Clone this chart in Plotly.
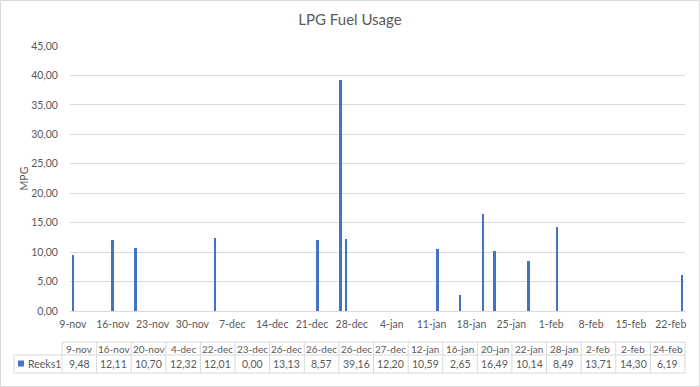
import plotly.graph_objects as go

# ---- data ----
dates = ["2015-11-09", "2015-11-16", "2015-11-20", "2015-12-04", "2015-12-22", "2015-12-23",
         "2015-12-26", "2015-12-26", "2015-12-26", "2015-12-27", "2016-01-12", "2016-01-16",
         "2016-01-20", "2016-01-22", "2016-01-28", "2016-02-02", "2016-02-02", "2016-02-24"]
categories = ["9-nov", "16-nov", "20-nov", "4-dec", "22-dec", "23-dec", "26-dec", "26-dec", "26-dec",
              "27-dec", "12-jan", "16-jan", "20-jan", "22-jan", "28-jan", "2-feb", "2-feb", "24-feb"]
values = [9.48, 12.11, 10.70, 12.32, 12.01, 0.00, 13.13, 8.57, 39.16,
          12.20, 10.59, 2.65, 16.49, 10.14, 8.49, 13.71, 14.30, 6.19]
tick_dates = ["2015-11-09", "2015-11-16", "2015-11-23", "2015-11-30", "2015-12-07", "2015-12-14",
              "2015-12-21", "2015-12-28", "2016-01-04", "2016-01-11", "2016-01-18", "2016-01-25",
              "2016-02-01", "2016-02-08", "2016-02-15", "2016-02-22"]
tick_labels = ["9-nov", "16-nov", "23-nov", "30-nov", "7-dec", "14-dec", "21-dec", "28-dec",
               "4-jan", "11-jan", "18-jan", "25-jan", "1-feb", "8-feb", "15-feb", "22-feb"]
series_name = "Reeks1"

# ---- styling ----
W, H = 700, 387
ML, MR, MT, MB = 70, 15, 46, 76
PW, PH = W - ML - MR, H - MT - MB
TXT = "#595959"
GRID = "#d9d9d9"
BAR = "#4472C4"
FONT = "Lato"
FS = 10.5
FT = 10
DAY = 86400000


def px(x):
    return (x - ML) / PW


def py(y):
    return (H - MB - y) / PH


def fmt(v):
    return f"{v:.2f}".replace(".", ",")


fig = go.Figure()
fig.add_trace(go.Bar(
    x=dates, y=values, name=series_name,
    xperiod=DAY, xperiodalignment="middle",
    width=0.45 * DAY, marker=dict(color=BAR, line=dict(width=0)),
    showlegend=False,
))

fig.update_layout(
    width=W, height=H,
    margin=dict(l=ML, r=MR, t=MT, b=MB, autoexpand=False),
    paper_bgcolor="white", plot_bgcolor="white",
    font=dict(family=FONT, size=FS, color=TXT),
    separators=",.",
    title=dict(text="LPG Fuel Usage", x=0.5, xanchor="center", y=1 - 20 / H, yanchor="middle",
               font=dict(family=FONT, size=15, color=TXT)),
    barmode="overlay",
    bargap=0,
)

fig.update_xaxes(
    type="date",
    range=["2015-11-09", "2016-02-25"],
    tickvals=[d + " 12:00" for d in tick_dates],
    ticktext=tick_labels,
    showgrid=False, showline=True, linecolor=GRID, linewidth=1,
    ticks="outside", ticklen=3, tickcolor="rgba(0,0,0,0)",
    tickfont=dict(family=FONT, size=FS, color=TXT),
    zeroline=False, automargin=False,
)
fig.update_yaxes(
    range=[0, 45], dtick=5, tickformat=".2f",
    showgrid=True, gridcolor=GRID, gridwidth=1,
    zeroline=False, showline=False,
    ticks="outside", ticklen=9, tickcolor="rgba(0,0,0,0)",
    tickfont=dict(family=FONT, size=FS, color=TXT),
    title=dict(text="MPG", standoff=0, font=dict(family=FONT, size=FS, color=TXT)),
    automargin=False,
)

shapes = []
# chart border
shapes.append(dict(type="rect", xref="paper", yref="paper",
                   x0=px(0.5), x1=px(W - 0.5), y0=py(H - 0.5), y1=py(0.5),
                   line=dict(color=GRID, width=1), fillcolor="rgba(0,0,0,0)", layer="below"))

# data table
T_LEFT, T_RIGHT = 62, 685
K_LEFT = 14
Y0, Y1, Y2 = 342, 355, 373
ncol = len(categories)
cw = (T_RIGHT - T_LEFT) / ncol


def hline(x0, x1, y):
    shapes.append(dict(type="line", xref="paper", yref="paper", x0=px(x0), x1=px(x1),
                       y0=py(y), y1=py(y), line=dict(color=GRID, width=1)))


def vline(x, y0, y1):
    shapes.append(dict(type="line", xref="paper", yref="paper", x0=px(x), x1=px(x),
                       y0=py(y0), y1=py(y1), line=dict(color=GRID, width=1)))


hline(T_LEFT, T_RIGHT, Y0)
hline(K_LEFT, T_RIGHT, Y1)
hline(K_LEFT, T_RIGHT, Y2)
vline(K_LEFT, Y1, Y2)
for k in range(ncol + 1):
    vline(T_LEFT + cw * k, Y0, Y2)

# legend key
shapes.append(dict(type="rect", xref="paper", yref="paper", x0=px(18), x1=px(24),
                   y0=py(366.5), y1=py(360.5), line=dict(width=0), fillcolor=BAR))

annotations = []
for i, (c, v) in enumerate(zip(categories, values)):
    cx = px(T_LEFT + cw * (i + 0.5))
    annotations.append(dict(text=c, x=cx, y=py((Y0 + Y1) / 2 + 0.5), xref="paper", yref="paper",
                            showarrow=False, xanchor="center", yanchor="middle",
                            font=dict(family=FONT, size=FT, color=TXT)))
    annotations.append(dict(text=fmt(v), x=cx, y=py((Y1 + Y2) / 2), xref="paper", yref="paper",
                            showarrow=False, xanchor="center", yanchor="middle",
                            font=dict(family=FONT, size=FT + 0.5, color=TXT)))
annotations.append(dict(text=series_name, x=px(26), y=py((Y1 + Y2) / 2), xref="paper", yref="paper",
                        showarrow=False, xanchor="left", yanchor="middle",
                        font=dict(family=FONT, size=FS, color=TXT)))

fig.update_layout(shapes=shapes, annotations=annotations)
fig.write_html("out.html", config={"displayModeBar": False},
               post_script="document.body.style.margin='0';")
